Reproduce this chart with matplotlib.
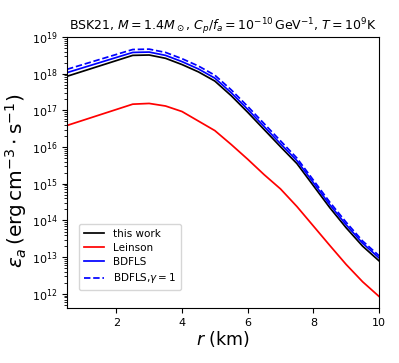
import numpy as np
import matplotlib
matplotlib.use("Agg")
import matplotlib.pyplot as plt

r_km = [0.5, 2.5, 3.0, 3.5, 4.0, 4.5, 5.0, 5.5, 6.0, 6.5, 7.0, 7.5, 8.0, 8.5, 9.0, 9.5, 10.0]
log_this_work = [17.93, 18.50, 18.51, 18.42, 18.25, 18.05, 17.80, 17.40, 16.95, 16.48, 16.01, 15.55, 14.95, 14.35, 13.80, 13.30, 12.90]
log_leinson = [16.59, 17.17, 17.19, 17.12, 16.97, 16.71, 16.45, 16.07, 15.67, 15.25, 14.86, 14.38, 13.85, 13.32, 12.80, 12.33, 11.93]
log_bdfls = [18.03, 18.58, 18.59, 18.50, 18.33, 18.13, 17.88, 17.48, 17.03, 16.56, 16.09, 15.63, 15.03, 14.43, 13.88, 13.38, 12.98]
log_bdfls_g1 = [18.12, 18.66, 18.67, 18.58, 18.41, 18.21, 17.96, 17.56, 17.11, 16.64, 16.17, 15.70, 15.10, 14.50, 13.95, 13.44, 13.04]

fig = plt.figure(figsize=(3.99, 3.63), dpi=100)
ax = fig.add_axes([0.168, 0.152, 0.782, 0.746])

r = np.array(r_km)
lw = 1.25
ax.plot(r, 10**np.array(log_this_work), color="black", lw=lw, label="this work")
ax.plot(r, 10**np.array(log_leinson), color="red", lw=lw, label="Leinson")
ax.plot(r, 10**np.array(log_bdfls), color="blue", lw=lw, label="BDFLS")
ax.plot(r, 10**np.array(log_bdfls_g1), color="blue", lw=lw, ls="--", label=r"BDFLS,$\gamma=1$")

ax.set_yscale("log")
ax.set_xlim(0.5, 10)
ax.set_ylim(10**11.62, 1e19)
ax.set_xticks([2, 4, 6, 8, 10])
ax.tick_params(labelsize=8)

ax.set_xlabel(r"$r$ (km)", fontsize=12.5, labelpad=1)
ax.set_ylabel(r"$\varepsilon_a\,(\mathrm{erg\,cm^{-3}\cdot s^{-1}})$", fontsize=14.5)
ax.yaxis.set_label_coords(-0.122, 0.47)
ax.set_title(r"BSK21, $M=1.4M_\odot$, $C_p/f_a=10^{-10}\,\mathrm{GeV}^{-1}$, $T=10^9$K",
             fontsize=9, pad=3.5)

ax.legend(loc="lower left", bbox_to_anchor=(0.038, 0.066), borderaxespad=0, fontsize=7.5,
          frameon=True, handlelength=2.0, borderpad=0.45, labelspacing=0.4)

fig.savefig("out.png", dpi=100)
